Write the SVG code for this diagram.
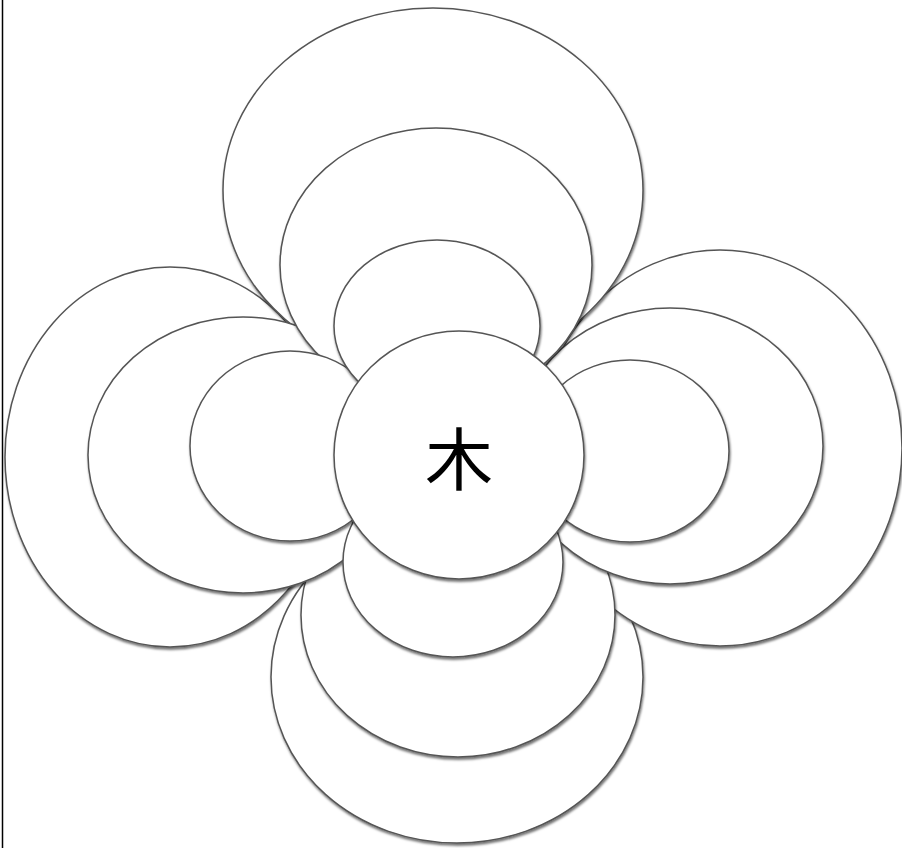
<svg xmlns="http://www.w3.org/2000/svg" width="902" height="848" viewBox="0 0 902 848">
<defs>
<filter id="sh" x="-10%" y="-10%" width="120%" height="120%">
<feDropShadow dx="0.8" dy="2.2" stdDeviation="0.9" flood-color="#000" flood-opacity="0.55"/>
</filter>
</defs>
<style>
.e{fill:#fff;stroke:#555;stroke-width:1.5;filter:url(#sh)}
.t{font-family:"Noto Sans CJK SC","Noto Sans CJK JP",serif;font-size:68px;fill:#000;text-anchor:middle;dominant-baseline:central}
</style>
<rect x="0" y="0" width="902" height="848" fill="#fff"/>
<line x1="2.5" y1="0" x2="2.5" y2="848" stroke="#000" stroke-width="1.5"/>
<g id="large-bottom"><ellipse class="e" cx="457" cy="677" rx="186" ry="166"/></g>
<g id="large-left"><ellipse class="e" cx="170" cy="457" rx="165" ry="190"/></g>
<g id="large-right"><ellipse class="e" cx="720" cy="448" rx="182" ry="198"/></g>
<g id="large-top"><ellipse class="e" cx="433" cy="190" rx="210" ry="182"/></g>
<g id="medium-bottom"><ellipse class="e" cx="458" cy="615" rx="157" ry="142"/></g>
<g id="medium-left"><ellipse class="e" cx="243" cy="455" rx="155" ry="138"/></g>
<g id="medium-right"><ellipse class="e" cx="670" cy="446" rx="153" ry="138"/></g>
<g id="medium-top"><ellipse class="e" cx="436" cy="265" rx="156" ry="137"/></g>
<g id="small-bottom"><ellipse class="e" cx="453" cy="562" rx="110" ry="95"/></g>
<g id="small-left"><ellipse class="e" cx="290" cy="446" rx="100" ry="95"/></g>
<g id="small-right"><ellipse class="e" cx="630" cy="451" rx="99" ry="91"/></g>
<g id="small-top"><ellipse class="e" cx="437" cy="326" rx="103" ry="86"/></g>
<g id="center"><ellipse class="e" cx="459" cy="455" rx="125" ry="124"/>
<text class="t" x="459" y="455">木</text></g>
<g id="connectors"></g>
</svg>
